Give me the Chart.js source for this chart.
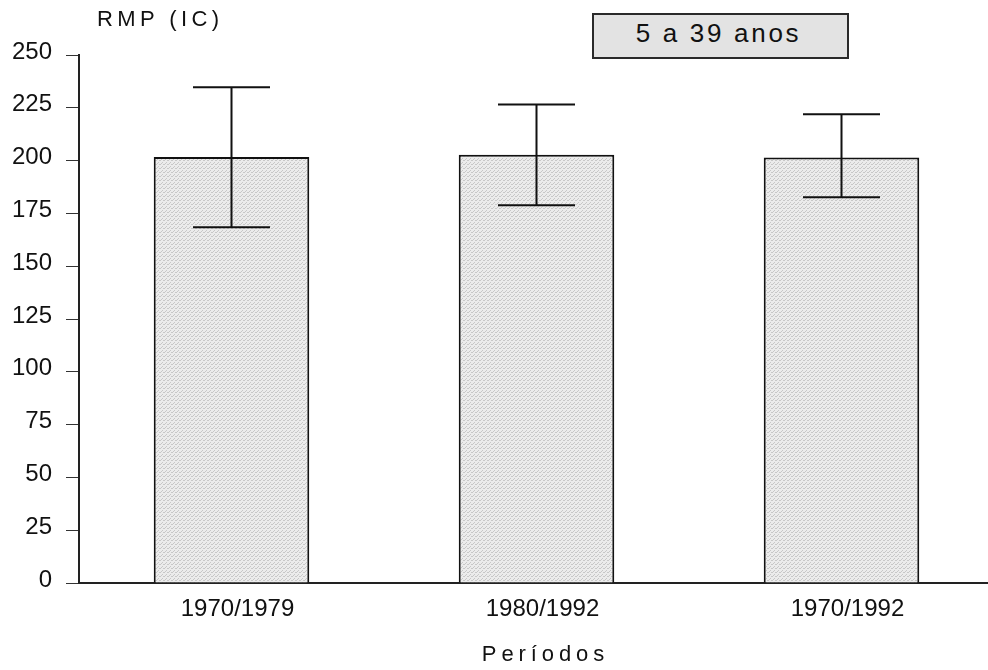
<!DOCTYPE html>
<html>
<head>
<meta charset="utf-8">
<script src="https://cdn.jsdelivr.net/npm/chart.js@4/dist/chart.umd.min.js"></script>
<style>
  html, body { margin: 0; padding: 0; background: #fff; overflow: hidden; width: 988px; height: 670px; }
  #wrap { position: relative; width: 988px; height: 670px; }
  canvas { position: absolute; left: 0; top: 0; }
  .txt { position: absolute; font-family: 'Liberation Sans', Arial, sans-serif; color: #111; white-space: nowrap; }
  #ylab { left: 97px; top: 8px; font-size: 22px; line-height: 22px; letter-spacing: 4.4px; }
  #box { position: absolute; left: 592px; top: 13px; width: 257px; height: 46px; box-sizing: border-box;
         border: 2px solid #2a2a2a; background: #e3e3e3; }
  #boxtxt { left: 0; width: 253px; top: 5px; text-align: center; font-size: 26px; line-height: 26px; letter-spacing: 2.7px; padding-right: 4px; box-sizing: border-box; }
  #xlab { left: 443px; width: 200px; top: 643px; text-align: center; font-size: 22px; line-height: 22px; letter-spacing: 4.9px; padding-left: 5px; box-sizing: border-box; }
</style>
</head>
<body>
<div id="wrap">
  <canvas id="c" width="997" height="670"></canvas>
  <div class="txt" id="ylab">RMP (IC)</div>
  <div id="box"><div class="txt" id="boxtxt">5 a 39 anos</div></div>
  <div class="txt" id="xlab">Períodos</div>
</div>
<script>
const categories = ['1970/1979', '1980/1992', '1970/1992'];
const rmpValues = [201.7, 202.8, 201.5];
const ciUpper = [234.7, 226.6, 221.9];
const ciLower = [168.4, 178.8, 182.6];
const yTicks = [0, 25, 50, 75, 100, 125, 150, 175, 200, 225, 250];

function makePattern() {
  const p = document.createElement('canvas');
  p.width = 4; p.height = 4;
  const g = p.getContext('2d');
  g.fillStyle = '#ececec'; g.fillRect(0, 0, 4, 4);
  g.fillStyle = '#c8c8c8';
  g.fillRect(0, 0, 1, 1); g.fillRect(2, 2, 1, 1); g.fillRect(3, 0, 1, 1); g.fillRect(1, 3, 1, 1);
  return document.getElementById('c').getContext('2d').createPattern(p, 'repeat');
}

const errorBars = {
  id: 'errorBars',
  afterDatasetsDraw(chart) {
    const ctx = chart.ctx;
    const meta = chart.getDatasetMeta(0);
    const y = chart.scales.y;
    ctx.save();
    ctx.strokeStyle = '#111';
    ctx.lineWidth = 2;
    meta.data.forEach((bar, i) => {
      const x = bar.x;
      const top = y.getPixelForValue(ciUpper[i]);
      const bot = y.getPixelForValue(ciLower[i]);
      const half = 38.5;
      ctx.beginPath();
      ctx.moveTo(x, top); ctx.lineTo(x, bot);
      ctx.moveTo(x - half, top); ctx.lineTo(x + half, top);
      ctx.moveTo(x - half, bot); ctx.lineTo(x + half, bot);
      ctx.stroke();
    });
    ctx.restore();
  }
};

const font = { family: "'Liberation Sans', Arial, sans-serif", size: 24 };

new Chart(document.getElementById('c'), {
  type: 'bar',
  data: {
    labels: categories,
    datasets: [{
      data: rmpValues,
      backgroundColor: makePattern(),
      borderColor: '#111',
      borderWidth: 2,
      borderSkipped: 'bottom',
      barPercentage: 0.51,
      categoryPercentage: 1.0
    }]
  },
  options: {
    responsive: false,
    devicePixelRatio: 1,
    animation: false,
    layout: { padding: { top: 55, right: 3, left: 0, bottom: 0 } },
    plugins: { legend: { display: false }, tooltip: { enabled: false } },
    scales: {
      x: {
        grid: { display: false, drawTicks: false },
        border: { display: true, color: '#222', width: 2 },
        ticks: { color: '#111', font: font, padding: 12, maxRotation: 0, labelOffset: 6 },
        afterFit(s) { s.height = 87; }
      },
      y: {
        min: 0, max: 250,
        afterBuildTicks(s) { s.ticks = yTicks.map(v => ({ value: v })); },
        grid: { display: true, drawOnChartArea: false, drawTicks: true, tickLength: 13, color: '#333', lineWidth: 1 },
        border: { display: true, color: '#222', width: 2 },
        ticks: { color: '#111', font: font, padding: 14, labelOffset: -3 },
        afterFit(s) { s.width = 79; }
      }
    }
  },
  plugins: [errorBars]
});
</script>
</body>
</html>
